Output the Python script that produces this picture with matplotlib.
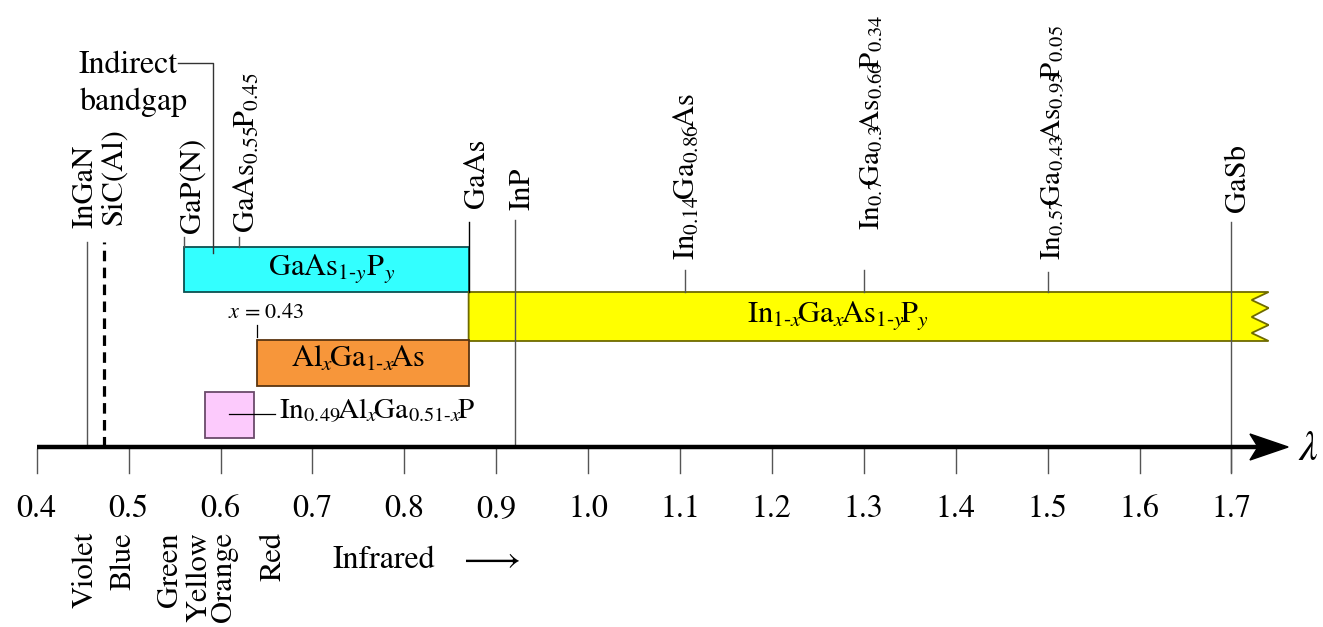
import matplotlib
matplotlib.use("Agg")
import matplotlib.pyplot as plt
from matplotlib.patches import Rectangle, Polygon

plt.rcParams["font.family"] = "STIXGeneral"
plt.rcParams["mathtext.fontset"] = "stix"

# ── Data ──────────────────────────────────────────────────────────────────────
# wavelength axis (µm)
TICKS = [0.4, 0.5, 0.6, 0.7, 0.8, 0.9, 1.0, 1.1, 1.2, 1.3, 1.4, 1.5, 1.6, 1.7]
TICK_LABELS = ["0.4", "0.5", "0.6", "0.7", "0.8", "0.9", "1.0",
               "1.1", "1.2", "1.3", "1.4", "1.5", "1.6", "1.7"]

# emission wavelengths of single materials marked above the axis
MATERIALS = ["InGaN", "SiC(Al)", "GaP(N)",
             r"$\mathrm{GaAs_{0.55}\!P_{0.45}}$",
             "GaAs", "InP",
             r"$\mathrm{In_{0.14}\!Ga_{0.86}\!As}$",
             r"$\mathrm{In_{0.7}\!\!Ga_{0.3}\!\!As_{0.66}\!\!P_{0.34}}$",
             r"$\mathrm{In_{0.57}\!\!Ga_{0.43}\!\!As_{0.95}\!\!P_{0.05}}$",
             "GaSb"]
MAT_LAMBDA = [0.455, 0.473, 0.56, 0.62, 0.87, 0.92, 1.105, 1.3, 1.5, 1.7]
MAT_FONTSIZE = [22, 22, 22, 22, 22, 22, 22, 21, 21, 22]

# alloy systems: wavelength range covered
ALLOYS = [r"$\mathrm{GaAs}_{1\text{-}y}\mathrm{P}_y$",
          r"$\mathrm{In}_{1\text{-}x}\!\mathrm{Ga}_x\!\mathrm{As}_{1\text{-}y}\!\mathrm{P}_y$",
          r"$\mathrm{Al}_x\!\mathrm{Ga}_{1\text{-}x}\!\mathrm{As}$",
          r"$\mathrm{In}_{0.49}\!\mathrm{Al}_x\!\mathrm{Ga}_{0.51\text{-}x}\!\mathrm{P}$"]
ALLOY_LO = [0.56, 0.87, 0.64, 0.583]
ALLOY_HI = [0.87, 1.722, 0.87, 0.636]

# visible colour bands under the axis
BANDS = ["Violet", "Blue", "Green", "Yellow", "Orange", "Red"]
BAND_LAMBDA = [0.461, 0.5015, 0.5525, 0.585, 0.611, 0.665]

ALGAAS_X_LIMIT = 0.64   # x = 0.43 crossover
INDIRECT_LAMBDA = 0.592

# ── Layout (vertical units = pixels above the axis line) ─────────────────────
PX = 1.0 / 919          # one pixel in µm
LABEL_DX = [5, 18, 16, 16, 15, 15, 10, 15, 13, 14]
LABEL_Y = [219, 222, 214, 214, 239, 237, 187, 217, 187, 235]
LINE_TOP = [205, 205, 210, 210, 225, 227, 177, 177, 175, 225]
LINE_BOT = [0, 0, 200, 200, 155, 0, 155, 155, 155, -25]

ALLOY_Y = [(155, 200), (106, 155), (61, 107), (9, 55)]
ALLOY_FACE = ["#33ffff", "#ffff00", "#f7963a", "#fccafc"]
ALLOY_EDGE = ["#0b5050", "#6e6a00", "#5a3510", "#6a4a6a"]
GREY = "#555555"


def main():
    fig = plt.figure(figsize=(13.23, 6.27), dpi=100)
    ax = fig.add_axes([0, 0, 1, 1])
    ax.set_xlim(0.4 - 36.7 * PX, 0.4 + (1323 - 36.7) * PX)
    ax.set_ylim(-180, 447)
    ax.axis("off")

    # main axis with arrow head
    tip, back, notch = 1.7617, 1.7202, 1.729
    ax.plot([0.4, notch], [0, 0], color="black", lw=3.2, solid_capstyle="butt", zorder=5)
    ax.add_patch(Polygon([(tip, 0), (back, 13), (notch, 0), (back, -13)],
                         closed=True, color="black", zorder=5))
    ax.text(1.7726, -13, r"$\lambda$", fontsize=30, ha="left", va="baseline")

    for t, lab in zip(TICKS, TICK_LABELS):
        ax.plot([t, t], [-2, -26], color=GREY, lw=1.0, zorder=2)
        ax.text(t, -70, lab, fontsize=23, ha="center", va="baseline")

    for lam, name in zip(BAND_LAMBDA, BANDS):
        ax.text(lam, -85, name, fontsize=22, rotation=90, rotation_mode="anchor",
                ha="right", va="baseline")
    ax.text(0.7215, -121, "Infrared", fontsize=23, ha="left", va="baseline")
    ax.text(0.8584, -121, r"$\longrightarrow$", fontsize=26, ha="left", va="baseline")

    # alloy boxes
    for i, (name, lo, hi) in enumerate(zip(ALLOYS, ALLOY_LO, ALLOY_HI)):
        y0, y1 = ALLOY_Y[i]
        if i == 1:
            # open-ended range: zig-zag right edge
            tipx = hi + 17 * PX
            pts = [(lo, y0), (lo, y1), (tipx, y1), (hi, y1 - 8), (tipx, y1 - 16),
                   (hi, y1 - 25), (tipx, y1 - 33), (hi, y1 - 41), (tipx, y0)]
            ax.add_patch(Polygon(pts, closed=True, facecolor=ALLOY_FACE[i],
                                 edgecolor=ALLOY_EDGE[i], lw=1.3, zorder=3))
        else:
            ax.add_patch(Rectangle((lo, y0), hi - lo, y1 - y0, facecolor=ALLOY_FACE[i],
                                   edgecolor=ALLOY_EDGE[i], lw=1.3, zorder=3))

    ax.text(0.7205, 172, ALLOYS[0], fontsize=22, ha="center", va="baseline", zorder=6)
    ax.text(1.272, 125, ALLOYS[1], fontsize=22, ha="center", va="baseline", zorder=6)
    ax.text(0.7497, 80, ALLOYS[2], fontsize=22, ha="center", va="baseline", zorder=6)
    pink_mid = (ALLOY_LO[3] + ALLOY_HI[3]) / 2
    ax.plot([pink_mid, ALLOY_HI[3] + 21 * PX], [33, 33], color="black", lw=0.9, zorder=6)
    ax.text(ALLOY_HI[3] + 25 * PX, 28, ALLOYS[3], fontsize=21, ha="left", va="baseline")

    # x = 0.43 marker for AlGaAs
    ax.plot([ALGAAS_X_LIMIT, ALGAAS_X_LIMIT], [110, 122], color="black", lw=0.9)
    ax.text(0.608, 129, r"$x$ = 0.43", fontsize=16, ha="left", va="baseline")

    # material markers
    for i, (name, lam) in enumerate(zip(MATERIALS, MAT_LAMBDA)):
        if name.startswith("SiC"):
            ax.plot([lam, lam], [LINE_BOT[i], LINE_TOP[i]], color="black", lw=2.3,
                    ls=(0, (3.3, 2.0)), zorder=4)
        else:
            col = "black" if name == "GaAs" else GREY
            ax.plot([lam, lam], [LINE_BOT[i], LINE_TOP[i]], color=col, lw=1.0, zorder=4)
        ax.text(lam + LABEL_DX[i] * PX, LABEL_Y[i], name, fontsize=MAT_FONTSIZE[i],
                rotation=90, rotation_mode="anchor", ha="left", va="baseline")

    # indirect bandgap boundary
    ax.plot([0.554, INDIRECT_LAMBDA, INDIRECT_LAMBDA], [384, 384, 194],
            color="#333333", lw=1.0, zorder=4)
    ax.text(0.446, 374, "Indirect", fontsize=23, ha="left", va="baseline")
    ax.text(0.447, 337, "bandgap", fontsize=23, ha="left", va="baseline")

    fig.savefig("out.png", dpi=100)
    plt.close(fig)


if __name__ == "__main__":
    main()
